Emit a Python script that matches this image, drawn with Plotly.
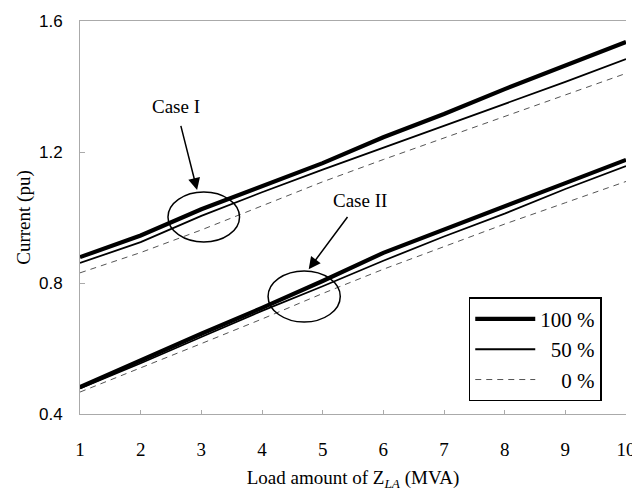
import plotly.graph_objects as go

load_mva = [1, 2, 3, 4, 5, 6, 7, 8, 9, 10]

case1_100 = [0.879, 0.945, 1.025, 1.095, 1.166, 1.245, 1.316, 1.392, 1.463, 1.536]
case1_50 = [0.861, 0.925, 1.005, 1.077, 1.146, 1.213, 1.280, 1.347, 1.414, 1.484]
case1_0 = [0.831, 0.893, 0.962, 1.035, 1.109, 1.177, 1.243, 1.310, 1.374, 1.440]

case2_100 = [0.482, 0.565, 0.645, 0.724, 0.806, 0.892, 0.962, 1.032, 1.105, 1.176]
case2_50 = [0.478, 0.555, 0.635, 0.715, 0.790, 0.868, 0.942, 1.012, 1.087, 1.157]
case2_0 = [0.467, 0.540, 0.615, 0.690, 0.768, 0.842, 0.912, 0.980, 1.045, 1.110]

legend_names = ["100 %", "\u200750 %", "\u2007\u20070 %"]
y_ticks = [0.4, 0.8, 1.2, 1.6]
y_tick_labels = ["0.4", "0.8", "1.2", "1.6"]
x_ticks = load_mva

SERIF = "Liberation Serif"
SANS = "Liberation Sans"

styles = [
    dict(color="black", width=4.2),
    dict(color="black", width=1.8),
    dict(color="#555555", width=1, dash="6px,5px"),
]

fig = go.Figure()
for i, (c1, c2) in enumerate([(case1_100, case2_100), (case1_50, case2_50), (case1_0, case2_0)]):
    fig.add_trace(go.Scatter(x=load_mva, y=c1, mode="lines", line=styles[i],
                             name=legend_names[i], legendgroup=str(i)))
    fig.add_trace(go.Scatter(x=load_mva, y=c2, mode="lines", line=styles[i],
                             name=legend_names[i], legendgroup=str(i), showlegend=False))

# ellipses
fig.add_shape(type="circle", xref="x", yref="y", x0=2.45, x1=3.63, y0=0.925, y1=1.078,
              line=dict(color="black", width=1.5))
fig.add_shape(type="circle", xref="x", yref="y", x0=4.10, x1=5.29, y0=0.681, y1=0.837,
              line=dict(color="black", width=1.5))

# labels with arrows (text sits at the arrow tail)
fig.add_annotation(x=2.93, y=1.084, ax=2.58, ay=1.34, axref="x", ayref="y",
                   text="Case I", showarrow=True, arrowhead=2, arrowsize=1.6,
                   arrowwidth=1.5, arrowcolor="black", standoff=0, startstandoff=8,
                   font=dict(family=SERIF, size=19, color="black"))
fig.add_annotation(x=4.77, y=0.842, ax=5.615, ay=1.053, axref="x", ayref="y",
                   text="Case II", showarrow=True, arrowhead=2, arrowsize=1.6,
                   arrowwidth=1.5, arrowcolor="black", standoff=0, startstandoff=6,
                   font=dict(family=SERIF, size=19, color="black"))

# the page adds an 8px body margin, so the figure is 8px smaller and margins compensate
fig.update_layout(
    width=632, height=492,
    margin=dict(l=72, r=14, t=13, b=86),
    paper_bgcolor="white", plot_bgcolor="white",
    showlegend=True,
    legend=dict(x=0.712, y=0.297, xanchor="left", yanchor="top",
                bordercolor="black", borderwidth=1.5, bgcolor="white",
                font=dict(family=SERIF, size=21, color="black"),
                tracegroupgap=0, itemwidth=60),
)
fig.update_xaxes(
    range=[1, 10], tickvals=x_ticks, ticktext=[str(v) for v in x_ticks],
    showgrid=False, zeroline=False, showline=True, mirror=True,
    linecolor="#aaaaaa", linewidth=1, automargin=False,
    ticks="inside", ticklen=4, tickcolor="#aaaaaa",
    ticklabelstandoff=18,
    tickfont=dict(family=SERIF, size=19, color="black"),
    title=dict(text="Load amount of Z<sub><i>LA</i></sub> (MVA)", standoff=11,
               font=dict(family=SERIF, size=19, color="black")),
)
fig.update_yaxes(
    range=[0.4, 1.6], tickvals=y_ticks, ticktext=y_tick_labels,
    showgrid=False, zeroline=False, showline=True, mirror=False,
    linecolor="#aaaaaa", linewidth=1, automargin=False,
    ticks="inside", ticklen=5, tickcolor="#aaaaaa",
    ticklabelstandoff=13,
    tickfont=dict(family=SANS, size=17, color="black"),
    title=dict(text="Current (pu)", standoff=3,
               font=dict(family=SERIF, size=19, color="black")),
)

fig.write_html("out.html")
